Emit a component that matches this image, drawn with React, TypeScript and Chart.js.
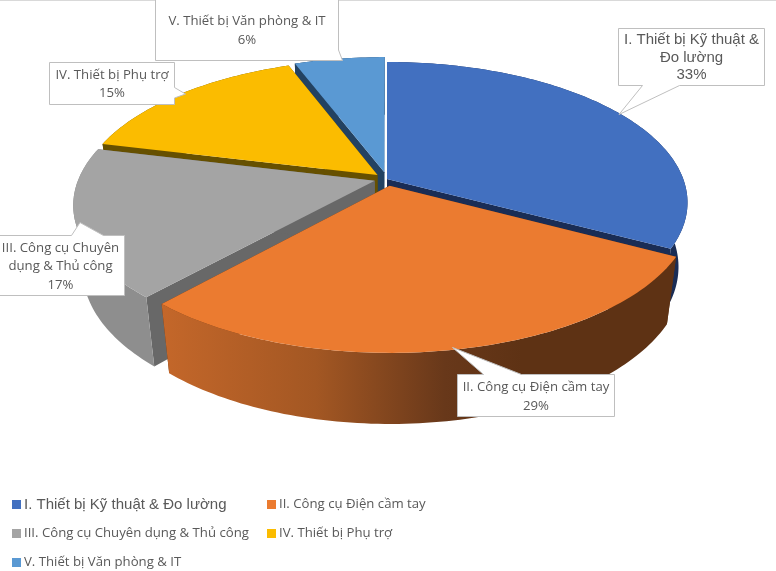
/**
 * 3D exploded pie chart of equipment categories with callout labels.
 * Chart.js computes the slice angles; a plugin projects them in perspective.
 */

import { useEffect, useRef } from 'react';
import { Chart, registerables } from 'chart.js';

Chart.register(...registerables);

const categories = [
  'I. Thiết bị Kỹ thuật & Đo lường',
  'II. Công cụ Điện cầm tay',
  'III. Công cụ Chuyên dụng & Thủ công',
  'IV. Thiết bị Phụ trợ',
  'V. Thiết bị Văn phòng & IT',
];
const shares = [32.8, 28.85, 17.2, 15.4, 5.75];
const explodePx = [0, 7.4, 6.4, 6.4, 7.4];

const topColors = ['#4270c0', '#eb7b30', '#a4a4a4', '#fbbc00', '#5a99d3'];
const wallColors = ['#1a2d55', '#5e3214', '#686868', '#665000', '#234261'];
const outerStops: [number, string][][] = [
  [[0, '#1a2d55'], [1, '#1a2d55']],
  [[0, '#c4672a'], [0.3, '#a35723'], [0.55, '#68381a'], [0.7, '#5e3214'], [1, '#5e3214']],
  [[0, '#808080'], [0.15, '#8e8e8e'], [1, '#8e8e8e']],
  [[0, '#665000'], [1, '#665000']],
  [[0, '#234261'], [1, '#234261']],
];
const drawOrder = [4, 0, 3, 2, 1];

// callout boxes: text centre comes from the box, tip is where the pointer lands
const calloutLines = [
  ['I. Thiết bị Kỹ thuật &', 'Đo lường'],
  ['II. Công cụ Điện cầm tay'],
  ['III. Công cụ Chuyên', 'dụng & Thủ công'],
  ['IV. Thiết bị Phụ trợ'],
  ['V. Thiết bị Văn phòng & IT'],
];

const BODY_FONT = '"Open Sans"';
const FIRST_FONT = '"Liberation Sans"';
const TEXT_COLOR = '#595959';

// perspective of the pie plane
const STRETCH_X = 1.995;
const STRETCH_Y = 0.92;
const DEPTH = 0.444;
const TILT = 0.1675;
const SHRINK = 0.03;

type Pt = [number, number];

function project(arc: any, angle: number, radial: number, z: number): Pt {
  const mid = (arc.startAngle + arc.endAngle) / 2;
  const e = (arc.options.offset || 0) / arc.outerRadius;
  const u = radial * Math.cos(angle) + e * Math.cos(mid);
  const v = radial * Math.sin(angle) + e * Math.sin(mid);
  const w = 1 - TILT * v + SHRINK * z;
  const r = arc.outerRadius;
  return [arc.x + (STRETCH_X * r * u) / w, arc.y + (STRETCH_Y * r * v + DEPTH * r * z) / w];
}

function rim(arc: any, z: number): Pt[] {
  const steps = Math.max(2, Math.ceil((arc.endAngle - arc.startAngle) / 0.02));
  const pts: Pt[] = [];
  for (let i = 0; i <= steps; i++) {
    pts.push(project(arc, arc.startAngle + ((arc.endAngle - arc.startAngle) * i) / steps, 1, z));
  }
  return pts;
}

function fillPoly(ctx: CanvasRenderingContext2D, pts: Pt[], fill: string | CanvasGradient) {
  ctx.beginPath();
  pts.forEach((p, i) => (i ? ctx.lineTo(p[0], p[1]) : ctx.moveTo(p[0], p[1])));
  ctx.closePath();
  ctx.fillStyle = fill;
  ctx.fill();
}

function drawSlice(ctx: CanvasRenderingContext2D, arc: any, i: number) {
  const topRim = rim(arc, 0);
  const lowRim = rim(arc, 1);
  const apexTop = project(arc, 0, 0, 0);
  const apexLow = project(arc, 0, 0, 1);
  const n = topRim.length - 1;

  fillPoly(ctx, [apexTop, topRim[0], lowRim[0], apexLow], wallColors[i]);
  fillPoly(ctx, [apexTop, topRim[n], lowRim[n], apexLow], wallColors[i]);

  const xs = topRim.map(p => p[0]);
  const grad = ctx.createLinearGradient(Math.min(...xs), 0, Math.max(...xs), 0);
  outerStops[i].forEach(([at, c]) => grad.addColorStop(at, c));
  fillPoly(ctx, [...topRim, ...lowRim.slice().reverse()], grad);

  fillPoly(ctx, [apexTop, ...topRim], topColors[i]);
}

function drawCallout(ctx: CanvasRenderingContext2D, outline: Pt[], cx: number, ys: number[], lines: string[], font: string) {
  ctx.beginPath();
  outline.forEach((p, i) => (i ? ctx.lineTo(p[0], p[1]) : ctx.moveTo(p[0], p[1])));
  ctx.closePath();
  ctx.fillStyle = '#ffffff';
  ctx.fill();
  ctx.strokeStyle = '#bfbfbf';
  ctx.lineWidth = 1;
  ctx.stroke();
  ctx.fillStyle = TEXT_COLOR;
  ctx.font = font;
  ctx.textAlign = 'center';
  ctx.textBaseline = 'middle';
  lines.forEach((t, i) => ctx.fillText(t, cx, ys[i]));
}

const pie3d = {
  id: 'pie3d',
  beforeDatasetDraw(chart: any) {
    const ctx: CanvasRenderingContext2D = chart.ctx;
    const arcs = chart.getDatasetMeta(0).data;
    drawOrder.forEach(i => drawSlice(ctx, arcs[i], i));
    return false;
  },
  afterDraw(chart: any) {
    const ctx: CanvasRenderingContext2D = chart.ctx;
    ctx.save();
    ctx.fillStyle = '#d9d9d9';
    ctx.fillRect(0, 0, chart.width, 1);

    const pct = shares.map(v => `${Math.round(v)}%`);
    const small = `13.2px ${BODY_FONT}`;
    const large = `15px ${FIRST_FONT}`;

    drawCallout(ctx, [[618.5, 28.5], [764.5, 28.5], [764.5, 85.5], [679.5, 85.5], [619, 114.5], [642.5, 85.5], [618.5, 85.5]],
      691.5, [40, 57.5, 75], [...calloutLines[0], pct[0]], large);
    drawCallout(ctx, [[457.5, 374.5], [483.5, 374.5], [452.5, 347.5], [521.5, 374.5], [614.5, 374.5], [614.5, 416.5], [457.5, 416.5]],
      536, [387.5, 406], [...calloutLines[1], pct[1]], small);
    drawCallout(ctx, [[-4, 235.5], [71.5, 235.5], [80, 222.5], [103.5, 235.5], [124.5, 235.5], [124.5, 295.5], [-4, 295.5]],
      60.5, [248, 266.5, 285], [...calloutLines[2], pct[2]], small);
    drawCallout(ctx, [[49.5, 62.5], [174.5, 62.5], [174.5, 87.5], [185.5, 94], [174.5, 98], [174.5, 104.5], [49.5, 104.5]],
      112, [75, 93.5], [...calloutLines[3], pct[3]], small);
    drawCallout(ctx, [[155.5, -3], [338.5, -3], [338.5, 50], [342.5, 60.5], [155.5, 60.5]],
      247, [21, 40], [...calloutLines[4], pct[4]], small);

    // legend in two fixed columns
    const rows = [504.5, 533.5, 562.5];
    const cols = [12, 267];
    categories.forEach((name, i) => {
      const x = cols[i % 2];
      const y = rows[Math.floor(i / 2)];
      ctx.fillStyle = topColors[i];
      ctx.fillRect(x, y - 4.5, 9, 9);
      ctx.fillStyle = TEXT_COLOR;
      ctx.font = i === 0 ? large : small;
      ctx.textAlign = 'left';
      ctx.textBaseline = 'middle';
      ctx.fillText(name, x + 12, y);
    });
    ctx.restore();
  },
};

export default function App(): JSX.Element {
  const canvasRef = useRef<HTMLCanvasElement>(null);

  useEffect(() => {
    document.body.style.margin = '0';
    if (!canvasRef.current) return;
    const chart = new Chart(canvasRef.current, {
      type: 'pie',
      data: {
        labels: categories,
        datasets: [{ data: shares, offset: explodePx, borderWidth: 0, backgroundColor: topColors }],
      },
      options: {
        animation: false,
        responsive: false,
        radius: 148.5,
        layout: { padding: { left: 0, right: 2, top: 0, bottom: 213 } },
        plugins: { legend: { display: false }, tooltip: { enabled: false } },
      },
      plugins: [pie3d],
    } as any);
    return () => chart.destroy();
  }, []);

  return (
    <div style={{ position: 'fixed', left: 0, top: 0, width: 776, height: 571, background: '#fff' }}>
      <canvas ref={canvasRef} width={776} height={571} role="img" aria-label="3D pie chart" />
    </div>
  );
}
